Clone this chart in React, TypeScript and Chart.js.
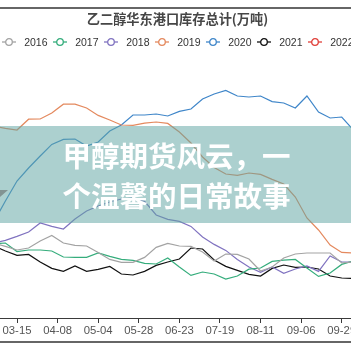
import React, { useEffect, useRef } from "react";
import { Chart, registerables } from "chart.js";

Chart.register(...registerables);

// ---- data ----
const years = ["2016", "2017", "2018", "2019", "2020", "2021", "2022"];
const weeks = [-2, -1, 0, 1, 2, 3, 4, 5, 6, 7, 8, 9, 10, 11, 12, 13, 14, 15, 16, 17, 18, 19, 20, 21, 22, 23, 24, 25, 26, 27, 28, 29];
const tickWeeks = [0, 3.5, 7, 10.5, 14, 17.5, 21, 24.5, 28];
const tickLabels = ["03-15", "04-08", "05-04", "05-28", "06-23", "07-19", "08-11", "09-06", "09-29"];

const s2016 = [57.5, 55.8, 54, 55, 58.5, 61.3, 57.5, 56.3, 56, 52.8, 49.3, 47.8, 47.8, 50.3, 55.3, 57.3, 56, 55.8, 53, 48.5, 52, 51.8, 49.5, 43.5, 45.5, 50, 52, 52.5, 52.5, 52.5, 47.5, 48];
const s2017 = [57, 57.5, 53.2, 54, 54, 53.5, 50.5, 50.3, 50.3, 52.5, 50.8, 49.3, 48.8, 47.3, 47, 50, 45.5, 41.3, 43, 42, 39.5, 41, 44.4, 45, 48.3, 48.9, 49.3, 45, 40.8, 42.5, 46.8, 48.5];
const s2018 = [57.5, 58.8, 60.8, 63, 67.5, 65.8, 64.5, 69.5, 73.5, 76, 78, 79.5, 80, 78.3, 71.5, 69.3, 68.3, 65.8, 60.5, 56.8, 53.8, 49.3, 45.5, 42.8, 45.5, 42.3, 44.5, 46, 43.3, 51, 48, 48];
const s2019 = [116, 114.8, 114, 119.4, 119.5, 122.5, 126.9, 126.9, 125, 121.3, 119, 116.5, 116.3, 117.4, 118, 117.3, 113, 107.5, 100.5, 95.3, 92, 91.3, 92.5, 91.8, 89.3, 87, 80.5, 70, 64, 56.5, 52.8, 52.5];
const s2020 = [68, 78.5, 88.5, 95, 101, 106.8, 109.3, 109.5, 106, 108, 113.5, 116.5, 121.5, 121.5, 122, 121, 123.3, 124.5, 129.5, 132, 133.8, 131, 130.5, 131, 128.2, 127.5, 125, 131, 123, 120, 120.5, 114];
const s2021 = [56, 53.5, 51.3, 51.8, 48, 44.8, 43.3, 46, 43.3, 44.3, 45.8, 42, 41.5, 43.3, 46.3, 48, 49.5, 55, 54.5, 49, 45.8, 43.8, 41.8, 41, 44.8, 46.5, 45.3, 45.5, 44.5, 41, 40, 39.8];
const s2022: number[] = [];

const series = [s2016, s2017, s2018, s2019, s2020, s2021, s2022];
const colors = ["#a3a3a3", "#35ad7c", "#8073c0", "#e4895e", "#3f86c9", "#111111", "#e0403a"];

export default function App() {
  const ref = useRef<HTMLCanvasElement | null>(null);

  useEffect(() => {
    if (!ref.current) return;
    const chart = new Chart(ref.current, {
      type: "line",
      data: {
        datasets: years.map((y, i) => ({
          label: y,
          data: series[i].map((v, k) => ({ x: weeks[k], y: v })),
          borderColor: colors[i],
          backgroundColor: colors[i],
          borderWidth: 1.2,
          pointRadius: 0,
          tension: 0,
          fill: false,
        })),
      },
      options: {
        animation: false,
        responsive: false,
        events: [],
        layout: { autoPadding: false, padding: { top: 58, left: 0, right: 0, bottom: 0 } },
        plugins: {
          legend: { display: false },
          title: { display: false },
          tooltip: { enabled: false },
        },
        scales: {
          x: {
            type: "linear",
            min: -1.466,
            max: 28.8,
            afterBuildTicks: (s: any) => {
              s.ticks = tickWeeks.map((v) => ({ value: v }));
            },
            afterFit: (s: any) => {
              s.height = 33;
              s.paddingLeft = 0;
              s.paddingRight = 0;
            },
            grid: { drawOnChartArea: false, drawTicks: true, tickLength: 5, color: "#3a3a3a", lineWidth: 1 },
            border: { display: true, color: "#3a3a3a", width: 1 },
            ticks: {
              autoSkip: false,
              maxRotation: 0,
              padding: 1,
              color: "#555",
              font: { family: "Liberation Sans", size: 11.3 },
              callback: (v: any) => {
                const k = tickWeeks.indexOf(Number(v));
                return k >= 0 ? tickLabels[k] : "";
              },
            },
          },
          y: { display: false, min: 20, max: 150 },
        },
      },
    });
    return () => chart.destroy();
  }, []);

  return (
    <div style={{ position: "fixed", left: 0, top: 0, width: 351, height: 351, background: "#fff", overflow: "hidden" }}>
      <canvas ref={ref} width={351} height={351} style={{ position: "absolute", left: 0, top: 0, width: 351, height: 351 }} />
      <div style={{ position: "absolute", left: 0, top: 7, width: 351, height: 2, background: "#666" }} />
      <div
        style={{
          position: "absolute",
          left: 2,
          top: 10,
          width: 351,
          textAlign: "center",
          fontFamily: '"Noto Sans CJK SC", sans-serif',
          fontWeight: 700,
          fontSize: 13.2,
          lineHeight: "18px",
          color: "#464646",
          whiteSpace: "nowrap",
        }}
      >
        乙二醇华东港口库存总计(万吨)
      </div>
      {years.map((y, i) => (
        <div
          key={y}
          style={{
            position: "absolute",
            left: 1.7 + 51 * i,
            top: 35,
            height: 13,
            display: "flex",
            alignItems: "center",
            whiteSpace: "nowrap",
          }}
        >
          <svg width={14} height={10} style={{ display: "block" }}>
            <line x1={0} y1={5} x2={14} y2={5} stroke={colors[i]} strokeWidth={1.3} />
            <circle cx={7} cy={5} r={3.3} fill="#fff" stroke={colors[i]} strokeWidth={1.3} />
          </svg>
          <span style={{ marginLeft: 8.5, fontFamily: '"Liberation Sans", sans-serif', fontSize: 10.5, color: "#333" }}>{y}</span>
        </div>
      ))}
      <div
        style={{
          position: "absolute",
          left: 0,
          top: 190,
          width: 8,
          height: 7,
          background: "#a8817f",
          clipPath: "polygon(0 0, 100% 0, 0 100%)",
        }}
      />
      <div style={{ position: "absolute", left: 0, top: 126, width: 351, height: 97, background: "rgba(95,165,163,0.52)" }} />
      <div
        style={{
          position: "absolute",
          left: 1,
          top: 126,
          width: 351,
          height: 97,
          display: "flex",
          flexDirection: "column",
          justifyContent: "center",
          alignItems: "center",
          color: "#fff",
          fontFamily: '"Noto Sans CJK SC", sans-serif',
          fontWeight: 700,
          fontSize: 28.5,
          lineHeight: "40px",
          whiteSpace: "nowrap",
        }}
      >
        <div>甲醇期货风云，一</div>
        <div>个温馨的日常故事</div>
      </div>
      <div style={{ position: "absolute", left: 0, top: 341, width: 351, height: 2, background: "#666" }} />
    </div>
  );
}
